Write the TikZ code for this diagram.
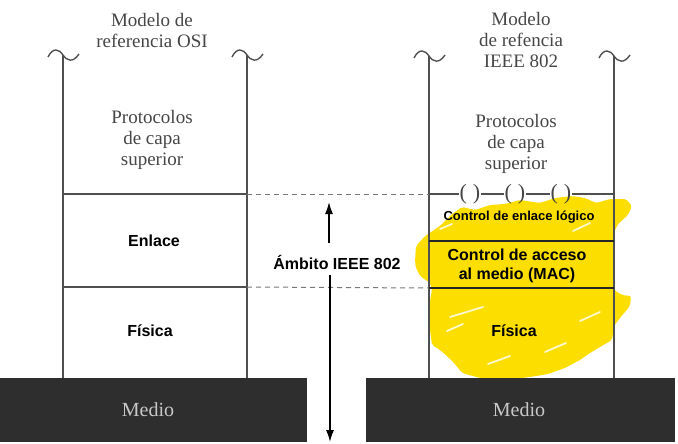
\documentclass[tikz,border=0pt]{standalone}
\usepackage{fontspec}
\setmainfont{Liberation Serif}
\newfontfamily\sansf{Liberation Sans}
\usetikzlibrary{arrows.meta}
\definecolor{serifgray}{RGB}{70,70,70}
\definecolor{linegray}{RGB}{80,80,80}
\definecolor{dashgray}{RGB}{120,120,120}
\definecolor{mediofill}{RGB}{46,46,46}
\definecolor{mediotext}{RGB}{200,200,200}
\definecolor{hilite}{RGB}{252,222,0}
\begin{document}
\begin{tikzpicture}[x=1pt,y=-1pt,
  serif/.style={font=\fontsize{19}{21}\selectfont, text=serifgray, align=center, inner sep=0pt},
  layer/.style={font=\sansf\bfseries\fontsize{16}{19}\selectfont, text=black, align=center, inner sep=0pt},
  smalllayer/.style={font=\sansf\bfseries\fontsize{13}{15}\selectfont, text=black, align=center, inner sep=0pt},
  stackline/.style={draw=linegray, line width=1.3pt},
  sepline/.style={draw=black!85, line width=1.4pt},
  dashline/.style={draw=dashgray, line width=1pt, dash pattern=on 5pt off 4pt},
  mediobox/.style={fill=mediofill, draw=none, text=mediotext, font=\fontsize{20}{22}\selectfont, inner sep=0pt},
  scopearrow/.style={draw=black, line width=1.6pt, -{Latex[length=12pt,width=8pt]}},
  paren/.style={font=\fontsize{22}{24}\selectfont, text=serifgray, inner sep=0.5pt},
  streak/.style={draw=white, line width=1.8pt, line cap=round, opacity=0.8},
  wave/.pic={\draw[draw=linegray, line width=1.4pt] (-15,2) .. controls (-10,-8) and (-4,-6) .. (0,0) .. controls (4,6) and (10,8) .. (16,-1);}
]
\useasboundingbox (0,0) rectangle (678,444);

% yellow highlight
\fill[hilite, rounded corners=2pt]
 (415,262) -- (416,246) -- (425,236) -- (440,226) -- (452,214) -- (462,207) -- (475,210)
 -- (490,205) -- (505,204) -- (520,200) -- (540,203) -- (555,198) -- (572,196) -- (585,198)
 -- (596,203) -- (610,199) -- (626,199) -- (632,206) -- (628,215) -- (618,224) -- (614,232)
 -- (614,290) -- (622,295) -- (631,296) -- (630,306) -- (620,318) -- (614,326) -- (612,340)
 -- (600,347) -- (590,353) -- (580,360) -- (565,368) -- (548,374) -- (530,377) -- (505,380)
 -- (480,378) -- (462,373) -- (455,364) -- (448,357) -- (440,350) -- (432,345) -- (430,330)
 -- (430,300) -- (432,290) -- (430,283) -- (420,276) -- (416,268) -- cycle;
\draw[streak] (450,317) -- (483,307);
\draw[streak] (447,331) -- (463,324);
\draw[streak] (580,321) -- (600,312);
\draw[streak] (488,364) -- (510,356);
\draw[streak] (573,231) -- (590,223);
\draw[streak] (440,229) -- (452,224);
\draw[streak] (545,352) -- (566,343);

% medio boxes
\node[mediobox, minimum width=307pt, minimum height=64pt] (medL) at (153.5,410) {};
\node[mediobox, minimum width=309pt, minimum height=64pt] (medR) at (520.5,410) {};
\node[mediobox, fill=none] (medLt) at (148,410) {Medio};
\node[mediobox, fill=none] (medRt) at (519,410) {Medio};

% left stack
\coordinate (LtopL) at (63,55);
\coordinate (LtopR) at (247,55);
\draw[stackline] (LtopL) -- (63,378);
\draw[stackline] (LtopR) -- (247,378);
\pic at (LtopL) {wave};
\pic at (LtopR) {wave};
\draw[stackline] (63,194) -- (247,194);
\draw[stackline] (63,287) -- (247,287);

% right stack
\coordinate (RtopL) at (429,56);
\coordinate (RtopR) at (614,56);
\draw[stackline] (RtopL) -- (429,378);
\draw[stackline] (RtopR) -- (614,378);
\pic at (RtopL) {wave};
\pic at (RtopR) {wave};
\node[paren] (p1) at (470,194) {(\hspace{6pt})};
\node[paren] (p2) at (515,194) {(\hspace{6pt})};
\node[paren] (p3) at (561,194) {(\hspace{6pt})};
\draw[stackline] (429,194) -- (p1.west);
\draw[stackline] (p1.east) -- (p2.west);
\draw[stackline] (p2.east) -- (p3.west);
\draw[stackline] (p3.east) -- (614,194);
\draw[sepline] (429,241) -- (614,241);
\draw[sepline] (429,288) -- (614,288);

% dashed links
\draw[dashline] (247,194) -- (429,194);
\draw[dashline] (247,287) -- (429,288);

% texts
\node[serif] (titL) at (152,31) {Modelo de\\referencia OSI};
\node[serif] (titR) at (521,40) {Modelo\\de refencia\\IEEE 802};
\node[serif] (protL) at (152,140) {Protocolos\\de capa\\superior};
\node[serif] (protR) at (516,144) {Protocolos\\de capa\\superior};
\node[layer] (enl) at (154,241) {Enlace};
\node[layer] (fisL) at (150,331) {Física};
\node[smalllayer] (llc) at (519,217) {Control de enlace lógico};
\node[layer] (mac) at (517,266) {Control de acceso\\al medio (MAC)};
\node[layer] (fisR) at (514,331) {Física};
\node[layer] (amb) at (337,262) {Ámbito IEEE 802};

% scope arrows
\coordinate (upTail) at (329,243);
\coordinate (upTip) at (329,202);
\coordinate (dnTail) at (330,275);
\coordinate (dnTip) at (330,442);
\draw[scopearrow] (upTail) -- (upTip);
\draw[scopearrow] (dnTail) -- (dnTip);
\end{tikzpicture}
\end{document}
